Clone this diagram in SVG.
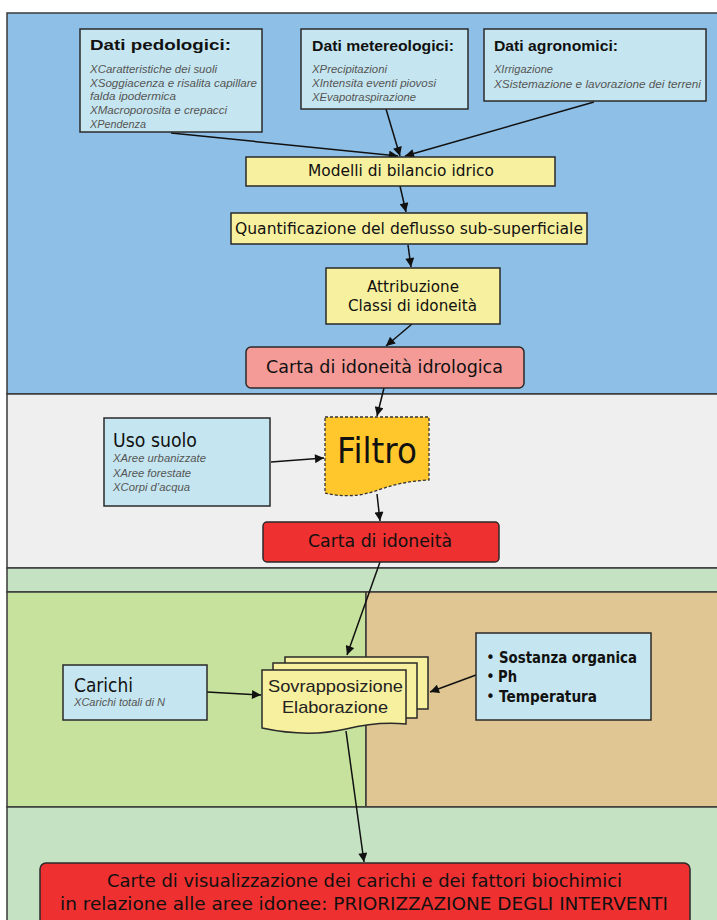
<svg xmlns="http://www.w3.org/2000/svg" width="717" height="920" viewBox="0 0 717 920">
<defs>
<style>
.bx{fill:#C5E6F0;stroke:#2a2a2a;stroke-width:1.5}
.yl{fill:#F7F09E;stroke:#2a2a2a;stroke-width:1.5}
.ttl{font-family:"Liberation Sans",Arial,sans-serif;font-weight:bold;font-size:15px;fill:#111}
.it{font-family:"Liberation Sans",Arial,sans-serif;font-style:italic;font-size:10.5px;fill:#555}
.cm{font-family:"DejaVu Sans","Liberation Sans",sans-serif;fill:#111}
.ar{font-family:"Liberation Sans",Arial,sans-serif;fill:#222}
.edge{stroke:#111;stroke-width:1.5;fill:none;marker-end:url(#ah)}
.band{stroke:#3a3a3a;stroke-width:1.5}
</style>
<marker id="ah" viewBox="0 0 10 10" refX="10" refY="5" markerWidth="11" markerHeight="9" markerUnits="userSpaceOnUse" orient="auto">
<path d="M0,0 L10,5 L0,10 z" fill="#111"/>
</marker>
</defs>
<rect x="0" y="0" width="717" height="920" fill="#ffffff"/>
<g id="background">
<rect class="band" x="7" y="13" width="720" height="381" fill="#8EBFE6"/>
<rect class="band" x="7" y="394" width="720" height="174" fill="#EFEFEF"/>
<rect class="band" x="7" y="568" width="720" height="24" fill="#C5E3C3"/>
<rect class="band" x="7" y="592" width="359" height="215" fill="#C6E29D"/>
<rect class="band" x="366" y="592" width="361" height="215" fill="#E0C692"/>
<rect class="band" x="7" y="807" width="720" height="120" fill="#C5E3C3"/>
</g>
<g id="connectors">
<line class="edge" x1="171" y1="133" x2="398" y2="156"/>
<line class="edge" x1="386" y1="109" x2="400" y2="156"/>
<line class="edge" x1="594" y1="102" x2="405" y2="156"/>
<line class="edge" x1="400" y1="186" x2="406" y2="212"/>
<line class="edge" x1="408" y1="245" x2="411" y2="267"/>
<line class="edge" x1="412" y1="324" x2="386" y2="346"/>
<line class="edge" x1="384" y1="388" x2="377" y2="416"/>
<line class="edge" x1="271" y1="462" x2="324" y2="458"/>
<line class="edge" x1="377" y1="494" x2="380" y2="521"/>
<line class="edge" x1="380" y1="562" x2="347" y2="655"/>
<line class="edge" x1="207" y1="692" x2="261" y2="695"/>
<line class="edge" x1="476" y1="675" x2="430" y2="692"/>
<line class="edge" x1="346" y1="731" x2="364" y2="862"/>
</g>
<g id="dati-pedologici">
<rect class="bx" x="80" y="29" width="182" height="103"/>
<text class="ttl" x="90" y="50" textLength="141" lengthAdjust="spacingAndGlyphs">Dati pedologici:</text>
<text class="it" x="90" y="73" textLength="127" lengthAdjust="spacingAndGlyphs">XCaratteristiche dei suoli</text>
<text class="it" x="90" y="87" textLength="167" lengthAdjust="spacingAndGlyphs">XSoggiacenza e risalita capillare</text>
<text class="it" x="90" y="100" textLength="86" lengthAdjust="spacingAndGlyphs">falda ipodermica</text>
<text class="it" x="90" y="114" textLength="137" lengthAdjust="spacingAndGlyphs">XMacroporosita e crepacci</text>
<text class="it" x="90" y="128" textLength="56" lengthAdjust="spacingAndGlyphs">XPendenza</text>
</g>
<g id="dati-metereologici">
<rect class="bx" x="301" y="29" width="167" height="80"/>
<text class="ttl" x="312" y="51" textLength="142" lengthAdjust="spacingAndGlyphs">Dati metereologici:</text>
<text class="it" x="312" y="73" textLength="75" lengthAdjust="spacingAndGlyphs">XPrecipitazioni</text>
<text class="it" x="312" y="87" textLength="124" lengthAdjust="spacingAndGlyphs">XIntensita eventi piovosi</text>
<text class="it" x="312" y="101" textLength="104" lengthAdjust="spacingAndGlyphs">XEvapotraspirazione</text>
</g>
<g id="dati-agronomici">
<rect class="bx" x="484" y="29" width="222" height="72"/>
<text class="ttl" x="494" y="51" textLength="124" lengthAdjust="spacingAndGlyphs">Dati agronomici:</text>
<text class="it" x="494" y="73" textLength="59" lengthAdjust="spacingAndGlyphs">XIrrigazione</text>
<text class="it" x="494" y="88" textLength="207" lengthAdjust="spacingAndGlyphs">XSistemazione e lavorazione dei terreni</text>
</g>
<g id="modelli">
<rect class="yl" x="246" y="157" width="309" height="29"/>
<text class="cm" x="308" y="176" font-size="15" textLength="186" lengthAdjust="spacingAndGlyphs">Modelli di bilancio idrico</text>
</g>
<g id="quantificazione">
<rect class="yl" x="231" y="213" width="356" height="31"/>
<text class="cm" x="235" y="234" font-size="16" textLength="348" lengthAdjust="spacingAndGlyphs">Quantificazione del deflusso sub-superficiale</text>
</g>
<g id="attribuzione">
<rect class="yl" x="326" y="268" width="174" height="56"/>
<text class="cm" x="367" y="292" font-size="15" textLength="92" lengthAdjust="spacingAndGlyphs">Attribuzione</text>
<text class="cm" x="348" y="311" font-size="15" textLength="129" lengthAdjust="spacingAndGlyphs">Classi di idoneità</text>
</g>
<g id="carta-idrologica">
<rect x="246" y="347" width="278" height="41" rx="5" fill="#F59B97" stroke="#2a2a2a" stroke-width="1.5"/>
<text class="cm" x="266" y="373" font-size="18" textLength="237" lengthAdjust="spacingAndGlyphs">Carta di idoneità idrologica</text>
</g>
<g id="uso-suolo">
<rect class="bx" x="104" y="418" width="166" height="88"/>
<text class="cm" x="113" y="447" font-size="19" textLength="84" lengthAdjust="spacingAndGlyphs">Uso suolo</text>
<text class="it" x="113" y="462" textLength="93" lengthAdjust="spacingAndGlyphs">XAree urbanizzate</text>
<text class="it" x="113" y="477" textLength="78" lengthAdjust="spacingAndGlyphs">XAree forestate</text>
<text class="it" x="113" y="491" textLength="77" lengthAdjust="spacingAndGlyphs">XCorpi d’acqua</text>
</g>
<g id="filtro">
<path d="M325,417 H429 V480 C410,481 395,484 378,490 C360,497 340,497 325,493 Z" fill="#FFC72C" stroke="#333" stroke-width="1.3" stroke-dasharray="3,2"/>
<text class="cm" x="337" y="463" font-size="36" textLength="80" lengthAdjust="spacingAndGlyphs">Filtro</text>
</g>
<g id="carta-idoneita">
<rect x="263" y="522" width="236" height="40" rx="4" fill="#EE3030" stroke="#2a2a2a" stroke-width="1.5"/>
<text class="cm" x="308" y="547" font-size="17" textLength="144" lengthAdjust="spacingAndGlyphs">Carta di idoneità</text>
</g>
<g id="carichi">
<rect class="bx" x="63" y="665" width="144" height="55"/>
<text class="cm" x="74" y="692" font-size="19" textLength="59" lengthAdjust="spacingAndGlyphs">Carichi</text>
<text class="it" x="74" y="706" font-size="9.5" textLength="91" lengthAdjust="spacingAndGlyphs">XCarichi totali di N</text>
</g>
<g id="sovrapposizione">
<rect class="yl" x="285" y="657" width="143" height="52"/>
<rect class="yl" x="273" y="663" width="144" height="55"/>
<path class="yl" d="M262,670 H406 V724 C385,722 362,725 346,729 C320,735 290,734 262,728 Z"/>
<text class="ar" x="268" y="692" font-size="17" textLength="135" lengthAdjust="spacingAndGlyphs">Sovrapposizione</text>
<text class="ar" x="282" y="713" font-size="17" textLength="106" lengthAdjust="spacingAndGlyphs">Elaborazione</text>
</g>
<g id="fattori">
<rect class="bx" x="476" y="633" width="175" height="87"/>
<text class="cm" x="486" y="663" font-size="15">•</text>
<text class="cm" x="499" y="663" font-size="16" font-weight="bold" textLength="138" lengthAdjust="spacingAndGlyphs">Sostanza organica</text>
<text class="cm" x="486" y="682" font-size="15">•</text>
<text class="cm" x="498" y="682" font-size="16" font-weight="bold" textLength="19" lengthAdjust="spacingAndGlyphs">Ph</text>
<text class="cm" x="486" y="702" font-size="15">•</text>
<text class="cm" x="499" y="702" font-size="16" font-weight="bold" textLength="98" lengthAdjust="spacingAndGlyphs">Temperatura</text>
</g>
<g id="carte-finali">
<rect x="40" y="863" width="650" height="70" rx="6" fill="#EE3030" stroke="#2a2a2a" stroke-width="1.5"/>
<text class="cm" x="107" y="887" font-size="17" textLength="515" lengthAdjust="spacingAndGlyphs">Carte di visualizzazione dei carichi e dei fattori biochimici</text>
<text class="cm" x="60" y="910" font-size="17" textLength="608" lengthAdjust="spacingAndGlyphs">in relazione alle aree idonee: PRIORIZZAZIONE DEGLI INTERVENTI</text>
</g>
</svg>
